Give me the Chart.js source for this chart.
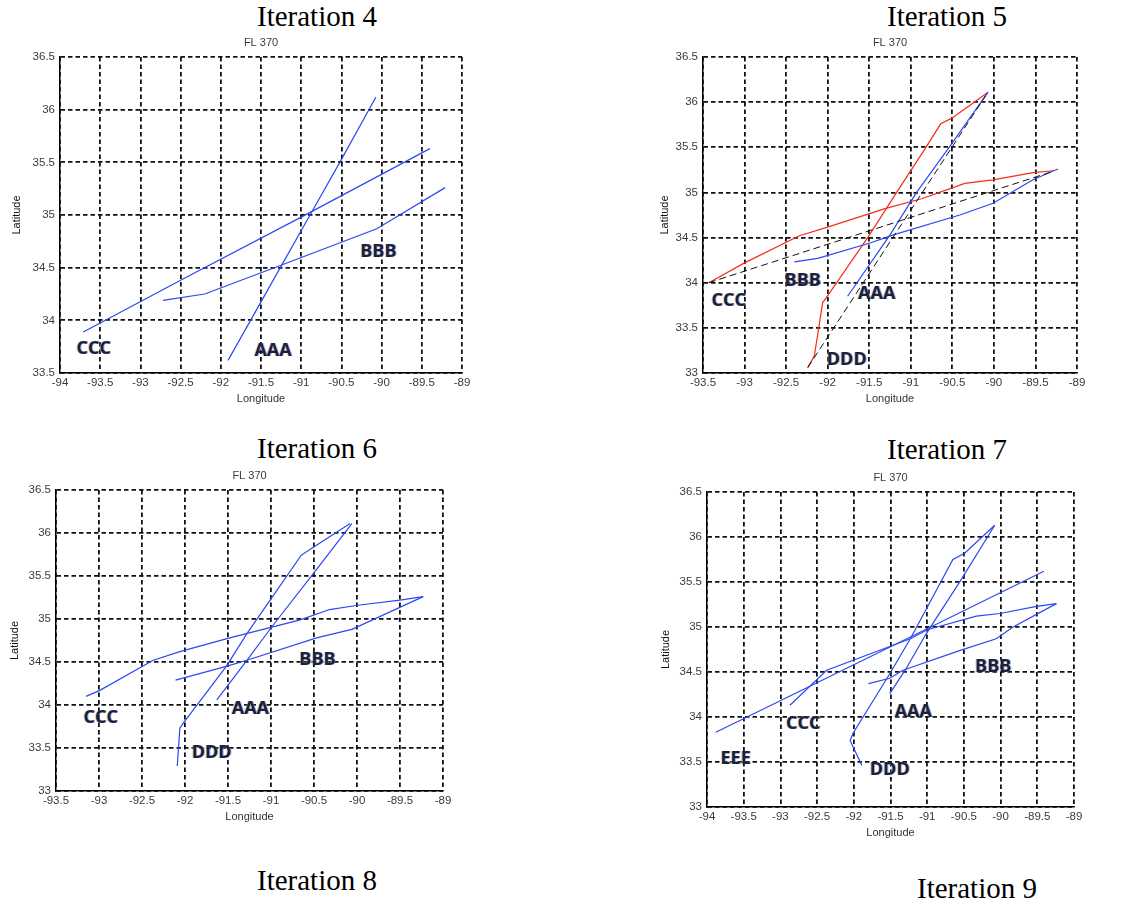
<!DOCTYPE html>
<html>
<head>
<meta charset="utf-8">
<title>FL 370 tracks by iteration</title>
<script src="https://cdn.jsdelivr.net/npm/chart.js@4.4.1/dist/chart.umd.min.js"></script>
<style>
  html, body { margin: 0; padding: 0; background: #fff; }
  body { width: 1124px; height: 905px; position: relative; overflow: hidden; }
  canvas { position: absolute; }
  .caption {
    position: absolute;
    font-family: "Liberation Serif", "Times New Roman", serif;
    font-size: 29px;
    line-height: 29px;
    white-space: nowrap;
    transform: translateX(-50%);
    color: #000;
  }
</style>
</head>
<body>
<div class="caption" style="left:317px;top:2px">Iteration 4</div>
<div class="caption" style="left:947px;top:2px">Iteration 5</div>
<div class="caption" style="left:317px;top:434px">Iteration 6</div>
<div class="caption" style="left:947px;top:435px">Iteration 7</div>
<div class="caption" style="left:317px;top:866px">Iteration 8</div>
<div class="caption" style="left:977px;top:874px">Iteration 9</div>

<canvas id="it4"></canvas>
<canvas id="it5"></canvas>
<canvas id="it6"></canvas>
<canvas id="it7"></canvas>

<script>
// tick positions
const lonTicksWide = [-94, -93.5, -93, -92.5, -92, -91.5, -91, -90.5, -90, -89.5, -89];
const lonTicksNarrow = [-93.5, -93, -92.5, -92, -91.5, -91, -90.5, -90, -89.5, -89];
const latTicksTall = [33, 33.5, 34, 34.5, 35, 35.5, 36, 36.5];
const latTicksShort = [33.5, 34, 34.5, 35, 35.5, 36, 36.5];

// iteration 4
const it4AaaLon = [-91.91, -91.26, -90.89, -90.52, -90.07];
const it4AaaLat = [33.62, 34.50, 35.00, 35.50, 36.12];
const it4CccLon = [-93.71, -92.5, -91.0, -89.40];
const it4CccLat = [33.89, 34.38, 34.98, 35.63];
const it4BbbLon = [-92.72, -92.20, -91.26, -90.06, -89.21];
const it4BbbLat = [34.19, 34.25, 34.52, 34.87, 35.26];
const it4Names = ['CCC', 'AAA', 'BBB'];
const it4NameLon = [-93.58, -91.35, -90.04];
const it4NameLat = [33.74, 33.72, 34.66];

// iteration 5
const it5RedCLon = [-93.43, -93.00, -92.34, -92.02, -91.31, -90.87, -90.35, -90.01, -89.53, -89.29];
const it5RedCLat = [34.00, 34.22, 34.52, 34.61, 34.82, 34.93, 35.10, 35.14, 35.22, 35.24];
const it5RedDLon = [-92.24, -92.16, -92.06, -92.02, -91.51, -91.17, -90.81, -90.64, -90.51, -90.07];
const it5RedDLat = [33.06, 33.19, 33.78, 33.83, 34.51, 35.00, 35.51, 35.76, 35.82, 36.11];
const it5AaaLon = [-91.76, -91.25, -90.93, -90.53, -90.07];
const it5AaaLat = [33.85, 34.53, 35.00, 35.51, 36.11];
const it5BbbLon = [-92.40, -92.12, -91.49, -91.21, -90.41, -90.01, -89.53, -89.23];
const it5BbbLat = [34.23, 34.27, 34.44, 34.53, 34.75, 34.88, 35.14, 35.26];
const it5DashCLon = [-93.43, -89.30];
const it5DashCLat = [34.00, 35.23];
const it5DashDLon = [-92.24, -90.10];
const it5DashDLat = [33.06, 36.07];
const it5Names = ['CCC', 'BBB', 'AAA', 'DDD'];
const it5NameLon = [-93.19, -92.30, -91.41, -91.77];
const it5NameLat = [33.81, 34.03, 33.89, 33.16];

// iteration 6
const it6CccLon = [-93.15, -92.99, -92.37, -92.06, -91.48, -90.66, -90.32, -89.99, -89.50, -89.23];
const it6CccLat = [34.10, 34.17, 34.52, 34.62, 34.78, 34.99, 35.11, 35.16, 35.22, 35.26];
const it6BbbLon = [-92.11, -91.52, -91.28, -90.47, -90.06, -89.23];
const it6BbbLat = [34.29, 34.45, 34.52, 34.78, 34.88, 35.26];
const it6DddLon = [-92.09, -92.06, -92.02, -91.52, -91.28, -90.65, -90.53, -90.08];
const it6DddLat = [33.29, 33.73, 33.79, 34.45, 34.83, 35.74, 35.82, 36.11];
const it6AaaLon = [-91.63, -91.28, -90.99, -90.49, -90.06];
const it6AaaLat = [34.06, 34.52, 34.91, 35.55, 36.11];
const it6Names = ['CCC', 'AAA', 'BBB', 'DDD'];
const it6NameLon = [-92.98, -91.24, -90.46, -91.69];
const it6NameLat = [33.86, 33.97, 34.53, 33.45];

// iteration 7
const it7EeeLon = [-93.88, -93.03, -92.0, -91.0, -89.41];
const it7EeeLat = [33.83, 34.17, 34.58, 34.98, 35.62];
const it7CccLon = [-92.87, -92.37, -91.23, -91.00, -90.33, -90.01, -89.51, -89.24];
const it7CccLat = [34.13, 34.52, 34.87, 34.97, 35.12, 35.15, 35.23, 35.26];
const it7BbbLon = [-91.80, -91.51, -91.33, -90.55, -90.06, -89.83, -89.24];
const it7BbbLat = [34.37, 34.43, 34.52, 34.74, 34.87, 35.00, 35.26];
const it7DddLon = [-91.89, -92.05, -92.01, -91.51, -91.23, -90.65, -90.49, -90.08];
const it7DddLat = [33.46, 33.74, 33.82, 34.48, 34.87, 35.75, 35.82, 36.13];
const it7AaaLon = [-91.51, -91.30, -91.01, -90.55, -90.08];
const it7AaaLat = [34.26, 34.52, 34.93, 35.51, 36.13];
const it7Names = ['EEE', 'CCC', 'AAA', 'DDD', 'BBB'];
const it7NameLon = [-93.61, -92.69, -91.19, -91.51, -90.10];
const it7NameLat = [33.54, 33.93, 34.07, 33.42, 34.57];

const BLUE = '#2c48f2';
const RED = '#f42c1c';
const BLACK = '#111';

const tickFont = { family: 'Liberation Sans', size: 11.5 };
const smallFont = { family: 'Liberation Sans', size: 11, weight: 'normal', lineHeight: 1.2 };

// flight names written next to the tracks
const trackLabels = {
  id: 'trackLabels',
  afterDatasetsDraw(chart, args, opts) {
    const { ctx, scales: { x, y } } = chart;
    ctx.save();
    ctx.font = 'bold 18px "Open Sans"';
    ctx.textAlign = 'center';
    ctx.textBaseline = 'alphabetic';
    opts.names.forEach((name, i) => {
      const px = x.getPixelForValue(opts.lon[i]);
      const py = y.getPixelForValue(opts.lat[i]) + 6;
      ctx.fillStyle = 'rgba(235,150,60,0.55)';
      ctx.fillText(name, px - 1, py);
      ctx.fillStyle = 'rgba(80,120,230,0.55)';
      ctx.fillText(name, px + 1, py);
      ctx.fillStyle = '#18223f';
      ctx.fillText(name, px, py);
    });
    ctx.restore();
  }
};

const track = (lon, lat, color, dash) => ({
  data: lon.map((v, i) => ({ x: v, y: lat[i] })),
  showLine: true,
  borderColor: color,
  borderWidth: dash ? 1 : 1.2,
  borderDash: dash || [],
  pointRadius: 0,
  tension: 0
});

const makeChart = (id, box, lonTicks, latTicks, datasets, names, nameLon, nameLat, latGap) => {
  const canvas = document.getElementById(id);
  const w = box.right - box.left;
  const h = box.bottom - box.top;
  canvas.width = w + 60 + 14;
  canvas.height = h + 21 + 36;
  canvas.style.left = (box.left - 60) + 'px';
  canvas.style.top = (box.top - 21) + 'px';

  const gridOpts = { color: BLACK, lineWidth: 1.8, drawTicks: false };
  const borderOpts = { display: true, color: '#000', width: 1.5, dash: [4.5, 3] };

  return new Chart(canvas.getContext('2d'), {
    type: 'scatter',
    data: { datasets },
    plugins: [trackLabels],
    options: {
      responsive: false,
      animation: false,
      layout: { padding: { top: 0, right: 14, bottom: 0, left: 0 } },
      plugins: {
        legend: { display: false },
        tooltip: { enabled: false },
        title: {
          display: true,
          text: 'FL 370',
          fullSize: false,
          font: smallFont,
          color: '#3a3a3a',
          padding: { top: 0, bottom: 7.8 }
        },
        trackLabels: { names, lon: nameLon, lat: nameLat }
      },
      scales: {
        x: {
          type: 'linear',
          min: lonTicks[0],
          max: lonTicks[lonTicks.length - 1],
          afterBuildTicks: s => { s.ticks = lonTicks.map(v => ({ value: v })); },
          afterFit: s => { s.height = 36; },
          ticks: { callback: v => String(v), font: tickFont, color: '#3a3a3a', padding: 3.4, maxRotation: 0, autoSkip: false },
          grid: gridOpts,
          border: borderOpts,
          title: { display: true, text: 'Longitude', font: smallFont, color: '#333', padding: { top: 0, bottom: 3.4 } }
        },
        y: {
          type: 'linear',
          min: latTicks[0],
          max: latTicks[latTicks.length - 1],
          afterBuildTicks: s => { s.ticks = latTicks.map(v => ({ value: v })); },
          afterFit: s => { s.width = 60; },
          ticks: { callback: v => String(v), font: tickFont, color: '#3a3a3a', padding: 5, autoSkip: false },
          grid: gridOpts,
          border: borderOpts,
          title: { display: true, text: 'Latitude', font: smallFont, color: '#111', padding: { top: 60 - latGap - 6.6, bottom: 0 } }
        }
      }
    }
  });
};

makeChart('it4', { left: 60, top: 57, right: 462, bottom: 373 }, lonTicksWide, latTicksShort, [
  track(it4AaaLon, it4AaaLat, BLUE),
  track(it4CccLon, it4CccLat, BLUE),
  track(it4BbbLon, it4BbbLat, BLUE)
], it4Names, it4NameLon, it4NameLat, 43);

makeChart('it5', { left: 703, top: 57, right: 1077, bottom: 373 }, lonTicksNarrow, latTicksTall, [
  track(it5DashCLon, it5DashCLat, BLACK, [7, 4]),
  track(it5DashDLon, it5DashDLat, BLACK, [7, 4]),
  track(it5AaaLon, it5AaaLat, BLUE),
  track(it5BbbLon, it5BbbLat, BLUE),
  track(it5RedCLon, it5RedCLat, RED),
  track(it5RedDLon, it5RedDLat, RED)
], it5Names, it5NameLon, it5NameLat, 38);

makeChart('it6', { left: 56, top: 490, right: 443, bottom: 791 }, lonTicksNarrow, latTicksTall, [
  track(it6CccLon, it6CccLat, BLUE),
  track(it6BbbLon, it6BbbLat, BLUE),
  track(it6DddLon, it6DddLat, BLUE),
  track(it6AaaLon, it6AaaLat, BLUE)
], it6Names, it6NameLon, it6NameLat, 41);

makeChart('it7', { left: 707, top: 492, right: 1074, bottom: 807 }, lonTicksWide, latTicksTall, [
  track(it7EeeLon, it7EeeLat, BLUE),
  track(it7CccLon, it7CccLat, BLUE),
  track(it7BbbLon, it7BbbLat, BLUE),
  track(it7DddLon, it7DddLat, BLUE),
  track(it7AaaLon, it7AaaLat, BLUE)
], it7Names, it7NameLon, it7NameLat, 41);
</script>
</body>
</html>
